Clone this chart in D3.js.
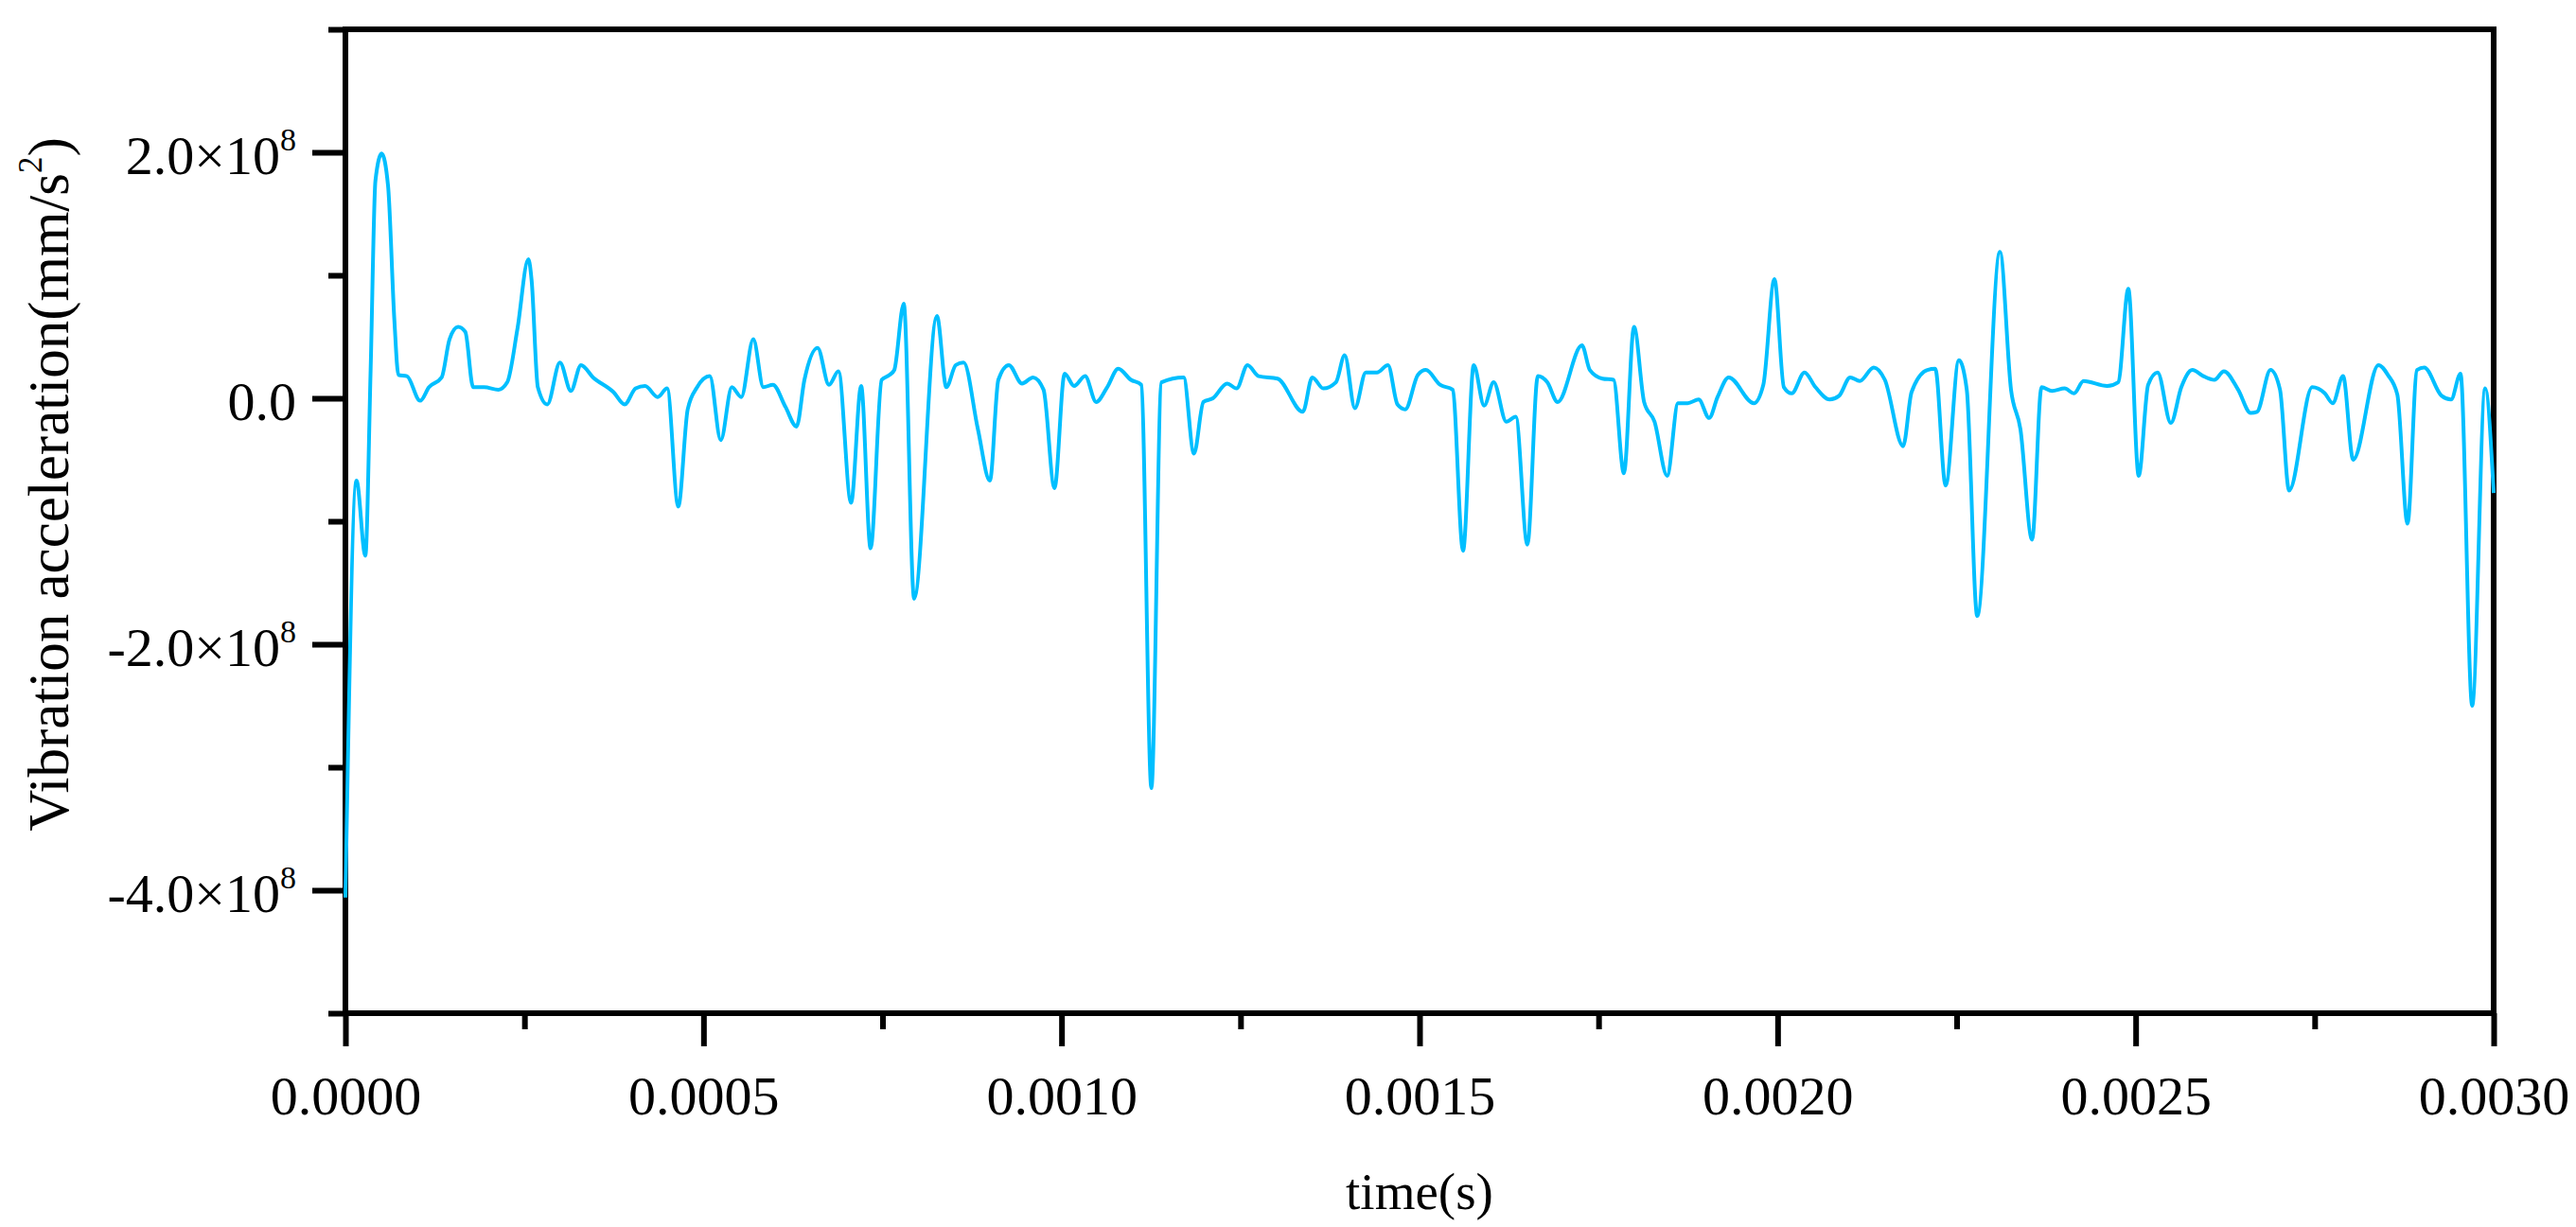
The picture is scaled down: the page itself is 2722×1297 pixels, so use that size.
<!DOCTYPE html>
<html>
<head>
<meta charset="utf-8">
<script src="https://cdn.jsdelivr.net/npm/d3@7/dist/d3.min.js"></script>
<style>
  body { margin: 0; background: #fff; }
  text { font-family: "Liberation Serif", "Times New Roman", serif; fill: #000; }
</style>
</head>
<body>
<script>
// Time samples in milliseconds
var timeMs = [
  0.0000, 0.0155, 0.0278, 0.0352, 0.0419, 0.0506, 0.0595, 0.0683, 0.0740, 0.0859,
  0.1044, 0.1167, 0.1344, 0.1454, 0.1573, 0.1674, 0.1784, 0.1938, 0.2137, 0.2260,
  0.2401, 0.2555, 0.2600, 0.2687, 0.2819, 0.2996, 0.3149, 0.3290, 0.3458, 0.3744,
  0.3899, 0.4053, 0.4185, 0.4361, 0.4493, 0.4648, 0.4780, 0.4912, 0.5088, 0.5242,
  0.5396, 0.5528, 0.5696, 0.5837, 0.5969, 0.6145, 0.6300, 0.6410, 0.6594, 0.6753,
  0.6885, 0.7061, 0.7202, 0.7334, 0.7489, 0.7599, 0.7665, 0.7797, 0.7942, 0.8260,
  0.8392, 0.8524, 0.8634, 0.8832, 0.9000, 0.9118, 0.9264, 0.9449, 0.9603, 0.9749,
  0.9902, 1.0044, 1.0176, 1.0330, 1.0484, 1.0638, 1.0793, 1.0969, 1.1114, 1.1255,
  1.1396, 1.1705, 1.1850, 1.1982, 1.2114, 1.2313, 1.2445, 1.2598, 1.2753, 1.3017,
  1.3370, 1.3502, 1.3656, 1.3832, 1.3955, 1.4097, 1.4250, 1.4405, 1.4559, 1.4692,
  1.4801, 1.4977, 1.5088, 1.5286, 1.5462, 1.5607, 1.5757, 1.5902, 1.6035, 1.6212,
  1.6344, 1.6506, 1.6652, 1.6784, 1.6929, 1.7268, 1.7378, 1.7554, 1.7709, 1.7854,
  1.7995, 1.8136, 1.8281, 1.8458, 1.8611, 1.8744, 1.8898, 1.9044, 1.9162, 1.9317,
  1.9669, 1.9801, 1.9956, 2.0088, 2.0198, 2.0376, 2.0529, 2.0727, 2.0859, 2.1014,
  2.1147, 2.1343, 2.1498, 2.1753, 2.1871, 2.2092, 2.2202, 2.2347, 2.2532, 2.2642,
  2.2788, 2.3105, 2.3260, 2.3391, 2.3554, 2.3686, 2.3832, 2.4009, 2.4140, 2.4273,
  2.4603, 2.4757, 2.4898, 2.5043, 2.5175, 2.5307, 2.5492, 2.5638, 2.5792, 2.5946,
  2.6100, 2.6233, 2.6431, 2.6607, 2.6695, 2.6884, 2.7016, 2.7144, 2.7466, 2.7642,
  2.7752, 2.7897, 2.8038, 2.8391, 2.8523, 2.8655, 2.8797, 2.8929, 2.9030, 2.9273,
  2.9405, 2.9537, 2.9700, 2.9881, 3.0000
];

// Vibration acceleration in units of 1e8 mm/s^2, one per time sample
var accel = [
  -4.06, -0.67, -1.28, 0.23, 1.77, 1.99, 1.73, 0.64, 0.19, 0.18,
  -0.02, 0.09, 0.17, 0.48, 0.58, 0.54, 0.09, 0.09, 0.07, 0.13,
  0.56, 1.13, 0.96, 0.09, -0.05, 0.29, 0.06, 0.27, 0.17, 0.05,
  -0.05, 0.08, 0.10, 0.01, 0.08, -0.88, -0.09, 0.09, 0.18, -0.34,
  0.09, 0.01, 0.48, 0.09, 0.11, -0.07, -0.23, 0.15, 0.41, 0.11,
  0.22, -0.85, 0.10, -1.22, 0.15, 0.19, 0.23, 0.77, -1.63, 0.67,
  0.09, 0.27, 0.29, -0.25, -0.67, 0.15, 0.27, 0.12, 0.17, 0.07,
  -0.73, 0.20, 0.10, 0.18, -0.03, 0.09, 0.24, 0.15, 0.11, -3.17,
  0.13, 0.17, -0.45, -0.03, 0.00, 0.12, 0.08, 0.27, 0.18, 0.16,
  -0.11, 0.17, 0.08, 0.13, 0.35, -0.08, 0.21, 0.21, 0.27, -0.05,
  -0.09, 0.19, 0.23, 0.11, 0.07, -1.24, 0.27, -0.06, 0.13, -0.19,
  -0.15, -1.19, 0.18, 0.13, -0.03, 0.43, 0.23, 0.16, 0.15, -0.61,
  0.58, -0.03, -0.19, -0.63, -0.04, -0.04, -0.01, -0.16, 0.01, 0.17,
  -0.04, 0.11, 0.97, 0.09, 0.04, 0.21, 0.09, -0.01, 0.02, 0.17,
  0.14, 0.25, 0.15, -0.39, 0.05, 0.23, 0.24, -0.71, 0.31, 0.07,
  -1.77, 1.19, 0.07, -0.25, -1.15, 0.09, 0.06, 0.08, 0.04, 0.14,
  0.10, 0.13, 0.89, -0.63, 0.11, 0.21, -0.20, 0.09, 0.23, 0.18,
  0.15, 0.22, 0.07, -0.12, -0.11, 0.23, 0.07, -0.75, 0.09, 0.04,
  -0.04, 0.18, -0.50, 0.27, 0.19, 0.03, -1.02, 0.23, 0.25, 0.02,
  -0.01, 0.20, -2.50, 0.08, -0.77
];

// Axis ticks
var xMajorTicks = [0, 0.0005, 0.0010, 0.0015, 0.0020, 0.0025, 0.0030];
var xMinorTicks = [0.00025, 0.00075, 0.00125, 0.00175, 0.00225, 0.00275];
var yMajorTicks = [-4e8, -2e8, 0, 2e8];
var yMinorTicks = [-5e8, -3e8, -1e8, 1e8, 3e8];

var w = 2722;
var h = 1297;
// plot box edges (window.top is reserved, so use own names)
var plotLeft = 365, plotRight = 2635, plotTop = 31, plotBottom = 1071;

var data = timeMs.map(function(t, i){
    return { t: t / 1000, a: accel[i] * 1e8 };
});

var x = d3.scaleLinear().domain([0, 0.003]).range([plotLeft, plotRight]);
var y = d3.scaleLinear().domain([-5e8, 3e8]).range([plotBottom, plotTop]);

var svg = d3.select("body")
    .append("svg")
    .attr("width", w)
    .attr("height", h);

svg.append("rect")
    .attr("width", w)
    .attr("height", h)
    .attr("fill", "#fff");

// x axis: major and minor ticks pointing outward
var gx = svg.append("g")
    .attr("transform", "translate(0," + plotBottom + ")")
    .call(d3.axisBottom(x)
        .tickValues(xMajorTicks)
        .tickSize(35)
        .tickPadding(31)
        .tickFormat(d3.format(".4f")));

svg.append("g")
    .attr("transform", "translate(0," + plotBottom + ")")
    .call(d3.axisBottom(x)
        .tickValues(xMinorTicks)
        .tickSize(17)
        .tickFormat(""));

// y axis
var gy = svg.append("g")
    .attr("transform", "translate(" + plotLeft + ",0)")
    .call(d3.axisLeft(y)
        .tickValues(yMajorTicks)
        .tickSize(35)
        .tickPadding(17));

svg.append("g")
    .attr("transform", "translate(" + plotLeft + ",0)")
    .call(d3.axisLeft(y)
        .tickValues(yMinorTicks)
        .tickSize(18)
        .tickFormat(""));

svg.selectAll(".domain").remove();
svg.selectAll(".tick line")
    .attr("stroke", "#000")
    .attr("stroke-width", 6);
svg.selectAll(".tick text")
    .style("font-size", "58px");

// y tick labels as mantissa x 10 with superscript exponent
gy.selectAll(".tick text").each(function(d){
    var t = d3.select(this).text(null).attr("dy", "0.38em");
    if (d === 0) {
        t.append("tspan").text("0.0");
        return;
    }
    t.append("tspan").text((d / 1e8).toFixed(1) + "\u00d710");
    t.append("tspan")
        .attr("dy", -25)
        .style("font-size", "34px")
        .text("8");
});

// frame around the plot
svg.append("rect")
    .attr("x", plotLeft)
    .attr("y", plotTop)
    .attr("width", plotRight - plotLeft)
    .attr("height", plotBottom - plotTop)
    .attr("fill", "none")
    .attr("stroke", "#000")
    .attr("stroke-width", 6);

// the signal
var line = d3.line()
    .x(function(d){ return x(d.t); })
    .y(function(d){ return y(d.a); })
    .curve(d3.curveMonotoneX);

svg.append("path")
    .datum(data)
    .attr("fill", "none")
    .attr("stroke", "#00BFFF")
    .attr("stroke-width", 4)
    .attr("stroke-linejoin", "round")
    .attr("d", line);

// axis titles
svg.append("text")
    .attr("x", (plotLeft + plotRight) / 2)
    .attr("y", 1278)
    .attr("text-anchor", "middle")
    .style("font-size", "55px")
    .text("time(s)");

var yTitle = svg.append("text")
    .attr("transform", "translate(72,512) rotate(-90)")
    .attr("text-anchor", "middle")
    .style("font-size", "61px");
yTitle.append("tspan").text("Vibration acceleration(mm/s");
yTitle.append("tspan").attr("dy", -28).style("font-size", "35px").text("2");
yTitle.append("tspan").attr("dy", 28).text(")");
</script>
</body>
</html>
